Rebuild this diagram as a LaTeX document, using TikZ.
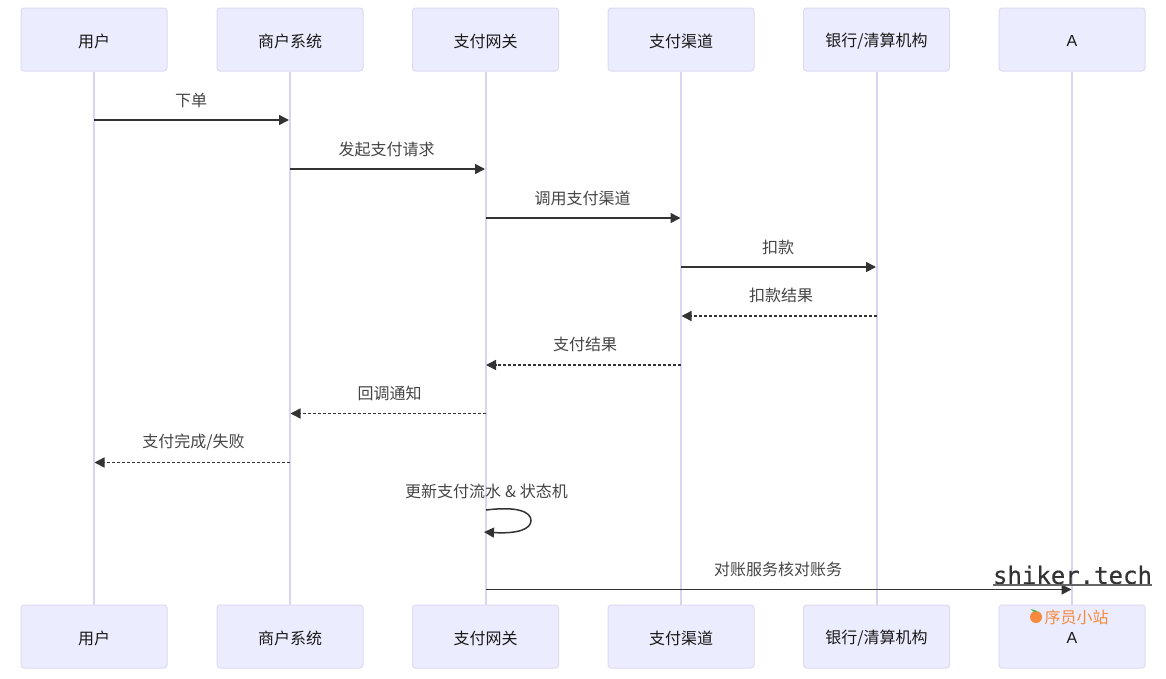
\documentclass[tikz,border=0pt]{standalone}
\usepackage{fontspec}
\setmainfont{Noto Sans CJK SC}
\newfontfamily\cjk{Noto Sans CJK SC}
\newfontfamily\latn{Liberation Sans}
\newfontfamily\wm[FakeBold=0.4]{DejaVu Sans Mono}
\usetikzlibrary{arrows.meta,backgrounds}
\definecolor{boxfill}{HTML}{ECECFF}
\definecolor{boxline}{HTML}{DDDAF2}
\definecolor{lifeline}{HTML}{D9D5F0}
\definecolor{ink}{HTML}{444444}
\definecolor{linec}{HTML}{333333}
\definecolor{orangewm}{HTML}{F58A3C}
\tikzset{
  actor/.style={draw=boxline,fill=boxfill,line width=1pt,rounded corners=3pt,minimum width=146pt,minimum height=63pt,inner sep=0pt},
  life/.style={draw=lifeline,line width=2pt},
  msg/.style={draw=linec,line width=1.5pt,-{Triangle[length=10pt,width=10pt]}},
  reply/.style={msg,dash pattern=on 3pt off 2pt},
  lab/.style={font=\fontsize{16}{16}\selectfont,text=ink,inner sep=0pt},
  alab/.style={font=\fontsize{16}{16}\selectfont,text=black!90,inner sep=0pt},
}
\begin{document}
\begin{tikzpicture}[x=1pt,y=-1pt]
\useasboundingbox (0,0) rectangle (1166,678);
\foreach \n/\x/\t in {1/94/{用户},2/290/{商户系统},3/485.5/{支付网关},4/681/{支付渠道},5/876.5/{银行/清算机构},6/1072/{\latn A}}{
  \node[actor] (u\n) at (\x,39.5) {};
  \node[actor] (b\n) at (\x,636.5) {};
  \node[alab] (ut\n) at (\x,41) {\t};
  \node[alab] (bt\n) at (\x,638) {\t};
  \begin{scope}[on background layer]
    \draw[life] (u\n.south) -- (b\n.north);
  \end{scope}
}
% message end points
\foreach \i/\a/\b/\y in {1/94/289/120,2/290/485/169,3/485.5/680.5/218,4/681/876/267,5/876.5/681.5/316,6/681/486/365,7/485.5/290.5/413.5,8/290/94.5/462.5,10/485.5/1071.5/589.5}{
  \coordinate (s\i) at (\a,\y);
  \coordinate (e\i) at (\b,\y);
}
\draw[msg] (s1) -- (e1);
\draw[msg] (s2) -- (e2);
\draw[msg] (s3) -- (e3);
\draw[msg] (s4) -- (e4);
\draw[reply] (s5) -- (e5);
\draw[reply] (s6) -- (e6);
\draw[reply] (s7) -- (e7);
\draw[reply] (s8) -- (e8);
\draw[msg] (s10) -- (e10);
\coordinate (s9) at (486,510);
\coordinate (e9) at (484,532);
\draw[msg] (s9) .. controls (518,506) and (531,512) .. (531,520.5) .. controls (531,529) and (518,534) .. (e9);
\node[lab] (l1) at (191,100.5) {下单};
\node[lab] (l2) at (386.5,149.5) {发起支付请求};
\node[lab] (l3) at (582.5,198.5) {调用支付渠道};
\node[lab] (l4) at (778,247.5) {扣款};
\node[lab] (l5) at (781,295.5) {扣款结果};
\node[lab] (l6) at (585,344.5) {支付结果};
\node[lab] (l7) at (389.5,393.5) {回调通知};
\node[lab] (l8) at (193.5,442.5) {支付完成/失败};
\node[lab] (l9) at (486.5,491.5) {更新支付流水\hspace{4pt}\&\hspace{4pt}状态机};
\node[lab] (l10) at (778,569.5) {对账服务核对账务};
% watermark
\node[inner sep=0pt,font=\wm\fontsize{24}{24}\selectfont,text=linec] (wm) at (1072.5,575) {shiker.tech};
\draw[draw=linec!75,line width=2pt] (wm.west |- 0,584.5) coordinate (wa) -- (wm.east |- 0,584.5) coordinate (wb);
\fill[orangewm] (1036,617) circle (6pt);
\fill[green!60!black!70!white] (1031,609) -- (1036,610.5) -- (1037,612) -- (1033,611.5) -- cycle;
\node[inner sep=0pt,font=\fontsize{16}{16}\selectfont,text=orangewm] (wt) at (1076.5,617) {序员小站};
\end{tikzpicture}
\end{document}
